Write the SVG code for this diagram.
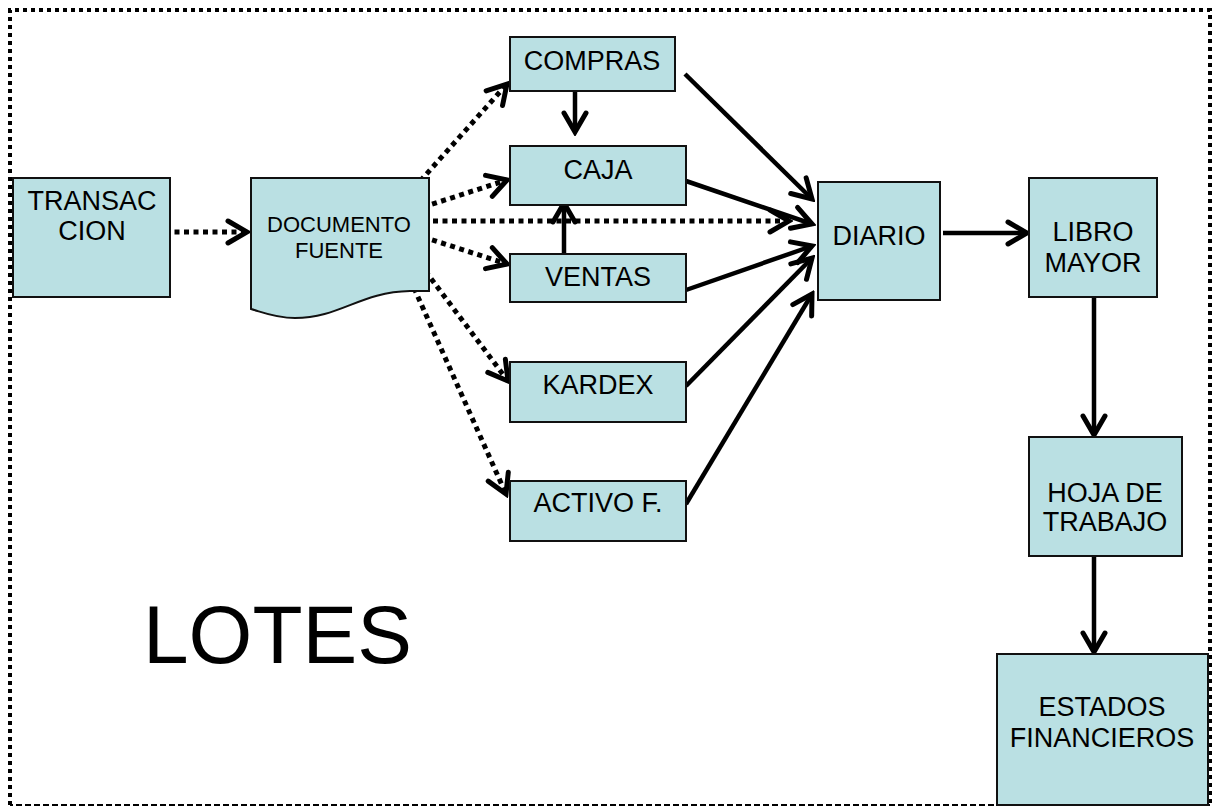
<svg xmlns="http://www.w3.org/2000/svg" width="1212" height="807" viewBox="0 0 1212 807">
<defs>
<style>
.box{fill:#BAE0E3;stroke:#111;stroke-width:2}
.t{font-family:"Liberation Sans",Arial,sans-serif;font-size:27px;fill:#000;text-anchor:middle}
.ts{font-family:"Liberation Sans",Arial,sans-serif;font-size:22px;fill:#000;text-anchor:middle}
.solid{stroke:#000;stroke-width:4.5;fill:none}
.dot{stroke:#000;stroke-width:5;fill:none;stroke-dasharray:5 4.5}
</style>
<marker id="ah" markerUnits="userSpaceOnUse" viewBox="-24 -14 28 28" refX="0" refY="0" markerWidth="28" markerHeight="28" orient="auto">
<path d="M-19,-11 L0,0 L-19,11" fill="none" stroke="#000" stroke-width="5" stroke-linecap="round" stroke-linejoin="miter"/>
</marker>
</defs>
<rect width="1212" height="807" fill="#fff"/>
<g id="border">
<path d="M1210,805 L10,805" fill="none" stroke="#000" stroke-width="2" stroke-dasharray="6 3"/>
<path d="M10,805 L10,10 L1210,10 L1210,805" fill="none" stroke="#000" stroke-width="4" stroke-dasharray="4 4"/>
</g>
<g id="connectors">
<line class="dot" x1="165" y1="232" x2="247" y2="232" marker-end="url(#ah)"/>
<line class="dot" x1="414" y1="188" x2="507" y2="84" marker-end="url(#ah)"/>
<line class="dot" x1="414" y1="210" x2="507" y2="180" marker-end="url(#ah)"/>
<line class="dot" x1="414" y1="221" x2="789" y2="221" marker-end="url(#ah)"/>
<line class="dot" x1="414" y1="234" x2="507" y2="264" marker-end="url(#ah)"/>
<line class="dot" x1="414" y1="256" x2="508" y2="381" marker-end="url(#ah)"/>
<line class="dot" x1="414" y1="288" x2="506" y2="494" marker-end="url(#ah)"/>
<line class="solid" x1="575" y1="92" x2="575" y2="132" marker-end="url(#ah)"/>
<line class="solid" x1="564" y1="254" x2="564" y2="203" marker-end="url(#ah)"/>
<line class="solid" x1="685" y1="74" x2="812" y2="199" marker-end="url(#ah)"/>
<line class="solid" x1="686" y1="181" x2="812" y2="224" marker-end="url(#ah)"/>
<line class="solid" x1="686" y1="290" x2="812" y2="246" marker-end="url(#ah)"/>
<line class="solid" x1="686" y1="386" x2="812" y2="258" marker-end="url(#ah)"/>
<line class="solid" x1="686" y1="504" x2="812" y2="294" marker-end="url(#ah)"/>
<line class="solid" x1="943" y1="233" x2="1027" y2="233" marker-end="url(#ah)"/>
<line class="solid" x1="1094" y1="297" x2="1094" y2="435" marker-end="url(#ah)"/>
<line class="solid" x1="1094" y1="556" x2="1094" y2="652" marker-end="url(#ah)"/>
</g>
<g id="transaccion">
<rect class="box" x="13" y="178" width="157" height="119"/>
<text class="t" x="92" y="210">TRANSAC</text>
<text class="t" x="92" y="240">CION</text>
</g>
<g id="documento">
<path class="box" d="M251,178 L429,178 L429,291 L410,291 C360,292 340,318 295,318 C275,318 262,312 251,309 Z"/>
<text class="ts" x="339" y="232">DOCUMENTO</text>
<text class="ts" x="339" y="258">FUENTE</text>
</g>
<g id="compras">
<rect class="box" x="510" y="37" width="165" height="54"/>
<text class="t" x="592" y="70">COMPRAS</text>
</g>
<g id="caja">
<rect class="box" x="510" y="146" width="176" height="59"/>
<text class="t" x="598" y="179">CAJA</text>
</g>
<g id="ventas">
<rect class="box" x="510" y="254" width="176" height="48"/>
<text class="t" x="598" y="286">VENTAS</text>
</g>
<g id="kardex">
<rect class="box" x="510" y="362" width="176" height="60"/>
<text class="t" x="598" y="394">KARDEX</text>
</g>
<g id="activo">
<rect class="box" x="510" y="481" width="176" height="60"/>
<text class="t" x="598" y="512">ACTIVO F.</text>
</g>
<g id="diario">
<rect class="box" x="818" y="182" width="122" height="118"/>
<text class="t" x="879" y="245">DIARIO</text>
</g>
<g id="libro">
<rect class="box" x="1029" y="178" width="128" height="119"/>
<text class="t" x="1093" y="241">LIBRO</text>
<text class="t" x="1093" y="272">MAYOR</text>
</g>
<g id="hoja">
<rect class="box" x="1029" y="437" width="153" height="119"/>
<text class="t" x="1105" y="502">HOJA DE</text>
<text class="t" x="1105" y="531">TRABAJO</text>
</g>
<g id="estados">
<rect class="box" x="997" y="654" width="211" height="151"/>
<text class="t" x="1102" y="716">ESTADOS</text>
<text class="t" x="1102" y="747">FINANCIEROS</text>
</g>
<g id="lotes">
<text x="143" y="663" font-family="Liberation Sans, Arial, sans-serif" font-size="82" fill="#000">LOTES</text>
</g>
</svg>
